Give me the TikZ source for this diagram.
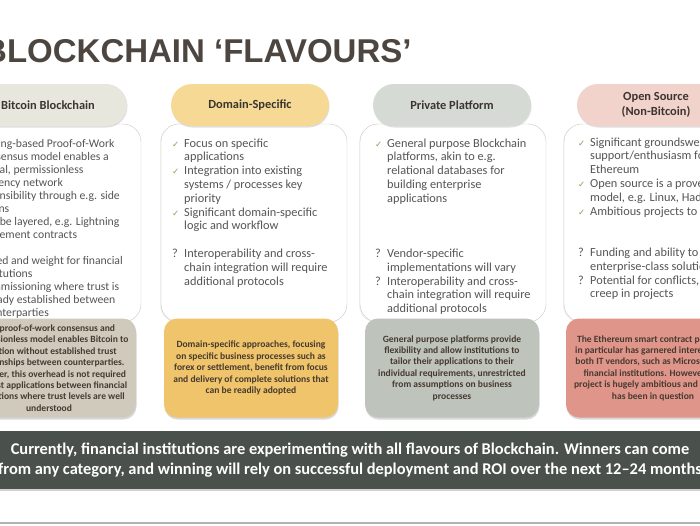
\documentclass[tikz,border=0pt]{standalone}
\usepackage{fontspec}
\setmainfont{Carlito}
\newfontfamily\titlefont{Liberation Sans}
\newfontfamily\symfont{DejaVu Sans}
\usetikzlibrary{shadows}

\definecolor{titlegray}{HTML}{4D4640}
\definecolor{headtext}{HTML}{3A3530}
\definecolor{bodygray}{HTML}{555555}
\definecolor{boxline}{HTML}{C8C8C0}
\definecolor{chkgreen}{HTML}{8AA050}
\definecolor{lowtext}{HTML}{463A30}
\definecolor{bitlight}{HTML}{E8E7DE}
\definecolor{bitdark}{HTML}{CFCABB}
\definecolor{domlight}{HTML}{F6D995}
\definecolor{domdark}{HTML}{EFC46A}
\definecolor{privlight}{HTML}{D6DAD5}
\definecolor{privdark}{HTML}{BEC3BC}
\definecolor{openlight}{HTML}{F2D3CB}
\definecolor{opendark}{HTML}{E0958B}
\definecolor{bannergray}{HTML}{4A514C}

\newcommand{\chk}{\textcolor{chkgreen}{\symfont\fontsize{8.5}{8}\selectfont ✓}}
\newcommand{\qm}{?}

\begin{document}
\begin{tikzpicture}[
x = 1pt, y = -1pt,
pill/.style = {rounded corners=21pt, minimum width=158pt, minimum height=42pt,
  inner sep=0pt, align=center, text=headtext,
  font=\bfseries\fontsize{12.4}{15}\selectfont,
  drop shadow={opacity=0.25, shadow xshift=0.5pt, shadow yshift=-1.5pt}},
bodybox/.style = {draw=boxline, fill=white, rounded corners=18pt,
  minimum width=186pt, minimum height=198pt,
  drop shadow={opacity=0.1, shadow xshift=-1pt, shadow yshift=-1pt}},
bottombox/.style = {rounded corners=13pt, minimum width=174pt, minimum height=99pt,
  inner sep=0pt, align=center, text=lowtext,
  font=\bfseries\fontsize{9.55}{11.4}\selectfont,
  drop shadow={opacity=0.3, shadow xshift=0.5pt, shadow yshift=-2pt}},
bodytext/.style = {anchor=base west, inner sep=0pt, text=bodygray,
  font=\fontsize{12.3}{13.8}\selectfont},
]
\path[use as bounding box, fill=white] (0,0) rectangle (700,525);
\clip (0,0) rectangle (700,525);

% title
\node [anchor=base west, inner sep=0pt, text=titlegray,
  font=\titlefont\bfseries\fontsize{33}{33}\selectfont] (title) at (-17,62)
  {BLOCKCHAIN ‘FLAVOURS’};

% body boxes
\node [bodybox] (bbit) at (48,223) {};
\node [bodybox] (bdom) at (254,223) {};
\node [bodybox] (bpriv) at (453,223) {};
\node [bodybox] (bopen) at (657,223) {};

% headers
\node [pill, fill=bitlight] (hbit) at (48,105) {Bitcoin Blockchain};
\node [pill, fill=domlight] (hdom) at (250,105) {Domain-Specific};
\node [pill, fill=privlight] (hpriv) at (452,105) {Private Platform};
\node [pill, fill=openlight] (hopen) at (656,105) {Open Source\\(Non-Bitcoin)};

% bullet lists
\node [bodytext, font=\fontsize{11.7}{13}\selectfont] (tbit) at (-33,147) {%
\begin{tabular}[t]{@{}p{12pt}@{}l@{}}
\chk & Mining-based Proof-of-Work\\
 & consensus model enables a\\
 & global, permissionless\\
 & currency network\\
\chk & Extensibility through e.g. side\\
 & chains\\
\chk & Can be layered, e.g. Lightning\\
 & settlement contracts\\
 & \\
\qm & Speed and weight for financial\\
 & institutions\\
\qm & Commissioning where trust is\\
 & already established between\\
 & counterparties
\end{tabular}};
\node [bodytext] (tdom) at (172,147) {%
\begin{tabular}[t]{@{}p{12pt}@{}l@{}}
\chk & Focus on specific\\
 & applications\\
\chk & Integration into existing\\
 & systems / processes key\\
 & priority\\
\chk & Significant domain-specific\\
 & logic and workflow\\
 & \\
\qm & Interoperability and cross-\\
 & chain integration will require\\
 & additional protocols
\end{tabular}};
\node [bodytext] (tpriv) at (375,147) {%
\begin{tabular}[t]{@{}p{12pt}@{}l@{}}
\chk & General purpose Blockchain\\
 & platforms, akin to e.g.\\
 & relational databases for\\
 & building enterprise\\
 & applications\\
 & \\
 & \\
 & \\
\qm & Vendor-specific\\
 & implementations will vary\\
\qm & Interoperability and cross-\\
 & chain integration will require\\
 & additional protocols
\end{tabular}};
\node [bodytext] (topen) at (578,146) {%
\begin{tabular}[t]{@{}p{12pt}@{}l@{}}
\chk & Significant groundswell of\\
 & support/enthusiasm for\\
 & Ethereum\\
\chk & Open source is a proven\\
 & model, e.g. Linux, Hadoop\\
\chk & Ambitious projects to\\
 & \\
 & \\
\qm & Funding and ability to\\
 & enterprise-class solutions\\
\qm & Potential for conflicts,\\
 & creep in projects
\end{tabular}};

% summary boxes
\node [bottombox, fill=bitdark] (lbit) at (49,368) {%
The proof-of-work consensus and\\
permissionless model enables Bitcoin to\\
function without established trust\\
relationships between counterparties.\\
However, this overhead is not required\\
for most applications between financial\\
institutions where trust levels are well\\
understood};
\node [bottombox, fill=domdark] (ldom) at (251,368) {%
Domain-specific approaches, focusing\\
on specific business processes such as\\
forex or settlement, benefit from focus\\
and delivery of complete solutions that\\
can be readily adopted};
\node [bottombox, fill=privdark] (lpriv) at (452,368) {%
General purpose platforms provide\\
flexibility and allow institutions to\\
tailor their applications to their\\
individual requirements, unrestricted\\
from assumptions on business\\
processes};
\node [bottombox, fill=opendark] (lopen) at (653,368) {%
The Ethereum smart contract platform\\
in particular has garnered interest from\\
both IT vendors, such as Microsoft, and\\
financial institutions. However, the\\
project is hugely ambitious and delivery\\
has been in question};

% banner
\fill [black!18] (0,488) rectangle (700,491);
\node [fill=bannergray, minimum width=702pt, minimum height=58pt, inner sep=0pt,
  align=center, text=white, font=\bfseries\fontsize{16.4}{19.5}\selectfont] (note) at (350,460)
  {Currently, financial institutions are experimenting with all flavours of Blockchain. Winners can come\\
   from any category, and winning will rely on successful deployment and ROI over the next 12–24 months};
\draw [black!30, line width=1.2pt] (0,523) -- (700,523);

\end{tikzpicture}
\end{document}
